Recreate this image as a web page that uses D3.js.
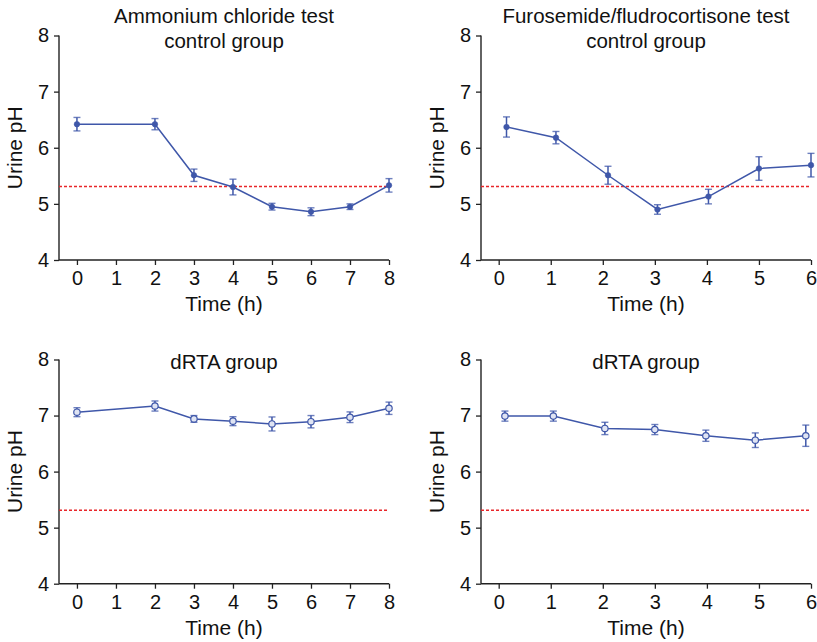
<!DOCTYPE html>
<html>
<head>
<meta charset="utf-8">
<script src="https://cdn.jsdelivr.net/npm/d3@7"></script>
<style>
  body { margin: 0; background: #fff; }
  text { font-family: "Liberation Sans", Arial, sans-serif; fill: #111; }
</style>
</head>
<body>
<div id="viz"></div>
<script>
// data
var ammTimes = [0, 2, 3, 4, 5, 6, 7, 8];
var ammCtrlPH = [6.42, 6.42, 5.51, 5.30, 4.95, 4.86, 4.95, 5.33];
var ammCtrlErr = [0.12, 0.10, 0.11, 0.14, 0.06, 0.07, 0.05, 0.12];
var ammDrtaPH = [7.06, 7.17, 6.94, 6.90, 6.85, 6.89, 6.97, 7.13];
var ammDrtaErr = [0.08, 0.09, 0.06, 0.08, 0.125, 0.11, 0.095, 0.11];

var furCtrlTimes = [0.15, 1.1, 2.1, 3.05, 4.03, 5, 6];
var furCtrlPH = [6.37, 6.18, 5.51, 4.90, 5.13, 5.63, 5.69];
var furCtrlErr = [0.18, 0.11, 0.16, 0.085, 0.13, 0.21, 0.21];
var furDrtaTimes = [0.12, 1.05, 2.04, 3.0, 3.98, 4.93, 5.9];
var furDrtaPH = [6.99, 6.99, 6.77, 6.75, 6.64, 6.56, 6.64];
var furDrtaErr = [0.09, 0.09, 0.11, 0.09, 0.10, 0.13, 0.19];

var ammTicks = [0, 1, 2, 3, 4, 5, 6, 7, 8];
var furTicks = [0, 1, 2, 3, 4, 5, 6];
var phTicks = [4, 5, 6, 7, 8];
var cutoffPH = 5.31;

var blue = '#3f57a9';

var svg = d3.select('#viz').append('svg')
	.attr('width', 817)
	.attr('height', 642);

// draw one panel
function drawPanel(p) {
	var g = svg.append('g');

	var x = d3.scaleLinear().domain(p.xDomain).range([p.left, p.right]);
	var y = d3.scaleLinear().domain([4, 8]).range([p.bottom, p.top]);

	// axes
	var xAxis = g.append('g')
		.attr('transform', 'translate(0,' + p.bottom + ')')
		.call(d3.axisBottom(x).tickValues(p.ticks).tickSize(5).tickPadding(6).tickFormat(d3.format('d')));
	xAxis.select('.domain').attr('d', 'M' + p.left + ',0H' + x(p.ticks[p.ticks.length - 1]));

	var yAxis = g.append('g')
		.attr('transform', 'translate(' + p.left + ',0)')
		.call(d3.axisLeft(y).tickValues(phTicks).tickSize(5).tickPadding(5).tickFormat(d3.format('d')));
	yAxis.select('.domain').attr('d', 'M0,' + y(8) + 'V' + y(4));

	g.selectAll('.domain').attr('stroke', '#222').attr('stroke-width', 1.4);
	g.selectAll('.tick line').attr('stroke', '#222').attr('stroke-width', 1.3);
	g.selectAll('.tick text').attr('font-size', '20px').attr('fill', '#111')
		.style('font-family', '"Liberation Sans", Arial, sans-serif');

	// cutoff line
	g.append('line')
		.attr('x1', p.left).attr('x2', x(p.ticks[p.ticks.length - 1]))
		.attr('y1', y(cutoffPH)).attr('y2', y(cutoffPH))
		.attr('stroke', '#e8262a').attr('stroke-width', 1.3)
		.attr('stroke-dasharray', '3,2');

	var pts = p.times.map(function(t, i) { return {t: t, v: p.vals[i], e: p.errs[i]}; });

	// line
	g.append('path')
		.datum(pts)
		.attr('d', d3.line().x(function(d) { return x(d.t); }).y(function(d) { return y(d.v); }))
		.attr('fill', 'none').attr('stroke', blue).attr('stroke-width', 1.5);

	// error bars
	var eb = g.selectAll('.eb').data(pts).enter().append('g');
	eb.append('line')
		.attr('x1', function(d) { return x(d.t); }).attr('x2', function(d) { return x(d.t); })
		.attr('y1', function(d) { return y(d.v + d.e); }).attr('y2', function(d) { return y(d.v - d.e); })
		.attr('stroke', blue).attr('stroke-width', 1.5);
	[1, -1].forEach(function(s) {
		eb.append('line')
			.attr('x1', function(d) { return x(d.t) - 3.5; }).attr('x2', function(d) { return x(d.t) + 3.5; })
			.attr('y1', function(d) { return y(d.v + s * d.e); }).attr('y2', function(d) { return y(d.v + s * d.e); })
			.attr('stroke', blue).attr('stroke-width', 1.4).attr('stroke-opacity', 0.75);
	});

	// markers
	g.selectAll('.dot').data(pts).enter().append('circle')
		.attr('cx', function(d) { return x(d.t); })
		.attr('cy', function(d) { return y(d.v); })
		.attr('r', p.open ? 3.2 : 2.8)
		.attr('fill', p.open ? '#dfe4f3' : blue)
		.attr('stroke', blue).attr('stroke-width', p.open ? 1.2 : 0.5);

	// titles
	p.title.forEach(function(t, i) {
		g.append('text')
			.attr('x', (p.left + x(p.ticks[p.ticks.length - 1])) / 2)
			.attr('y', p.titleY + i * 25.5)
			.attr('text-anchor', 'middle')
			.attr('font-size', '20.5px')
			.text(t);
	});

	g.append('text')
		.attr('x', (p.left + x(p.ticks[p.ticks.length - 1])) / 2)
		.attr('y', p.bottom + 51)
		.attr('text-anchor', 'middle')
		.attr('font-size', '21px')
		.text('Time (h)');

	g.append('text')
		.attr('transform', 'translate(' + (p.left - 37) + ',' + ((p.top + p.bottom) / 2) + ') rotate(-90)')
		.attr('text-anchor', 'middle')
		.attr('font-size', '21px')
		.text('Urine pH');
}

drawPanel({left: 59, right: 389, xDomain: [-0.46, 8], ticks: ammTicks, top: 35.5, bottom: 260,
	times: ammTimes, vals: ammCtrlPH, errs: ammCtrlErr, open: false,
	title: ['Ammonium chloride test', 'control group'], titleY: 22.5});

drawPanel({left: 481, right: 811, xDomain: [-0.34, 6], ticks: furTicks, top: 35.5, bottom: 260,
	times: furCtrlTimes, vals: furCtrlPH, errs: furCtrlErr, open: false,
	title: ['Furosemide/fludrocortisone test', 'control group'], titleY: 22.5});

drawPanel({left: 59, right: 389, xDomain: [-0.46, 8], ticks: ammTicks, top: 359.5, bottom: 583.7,
	times: ammTimes, vals: ammDrtaPH, errs: ammDrtaErr, open: true,
	title: ['dRTA group'], titleY: 369});

drawPanel({left: 481, right: 811, xDomain: [-0.34, 6], ticks: furTicks, top: 359.5, bottom: 583.7,
	times: furDrtaTimes, vals: furDrtaPH, errs: furDrtaErr, open: true,
	title: ['dRTA group'], titleY: 369});
</script>
</body>
</html>
